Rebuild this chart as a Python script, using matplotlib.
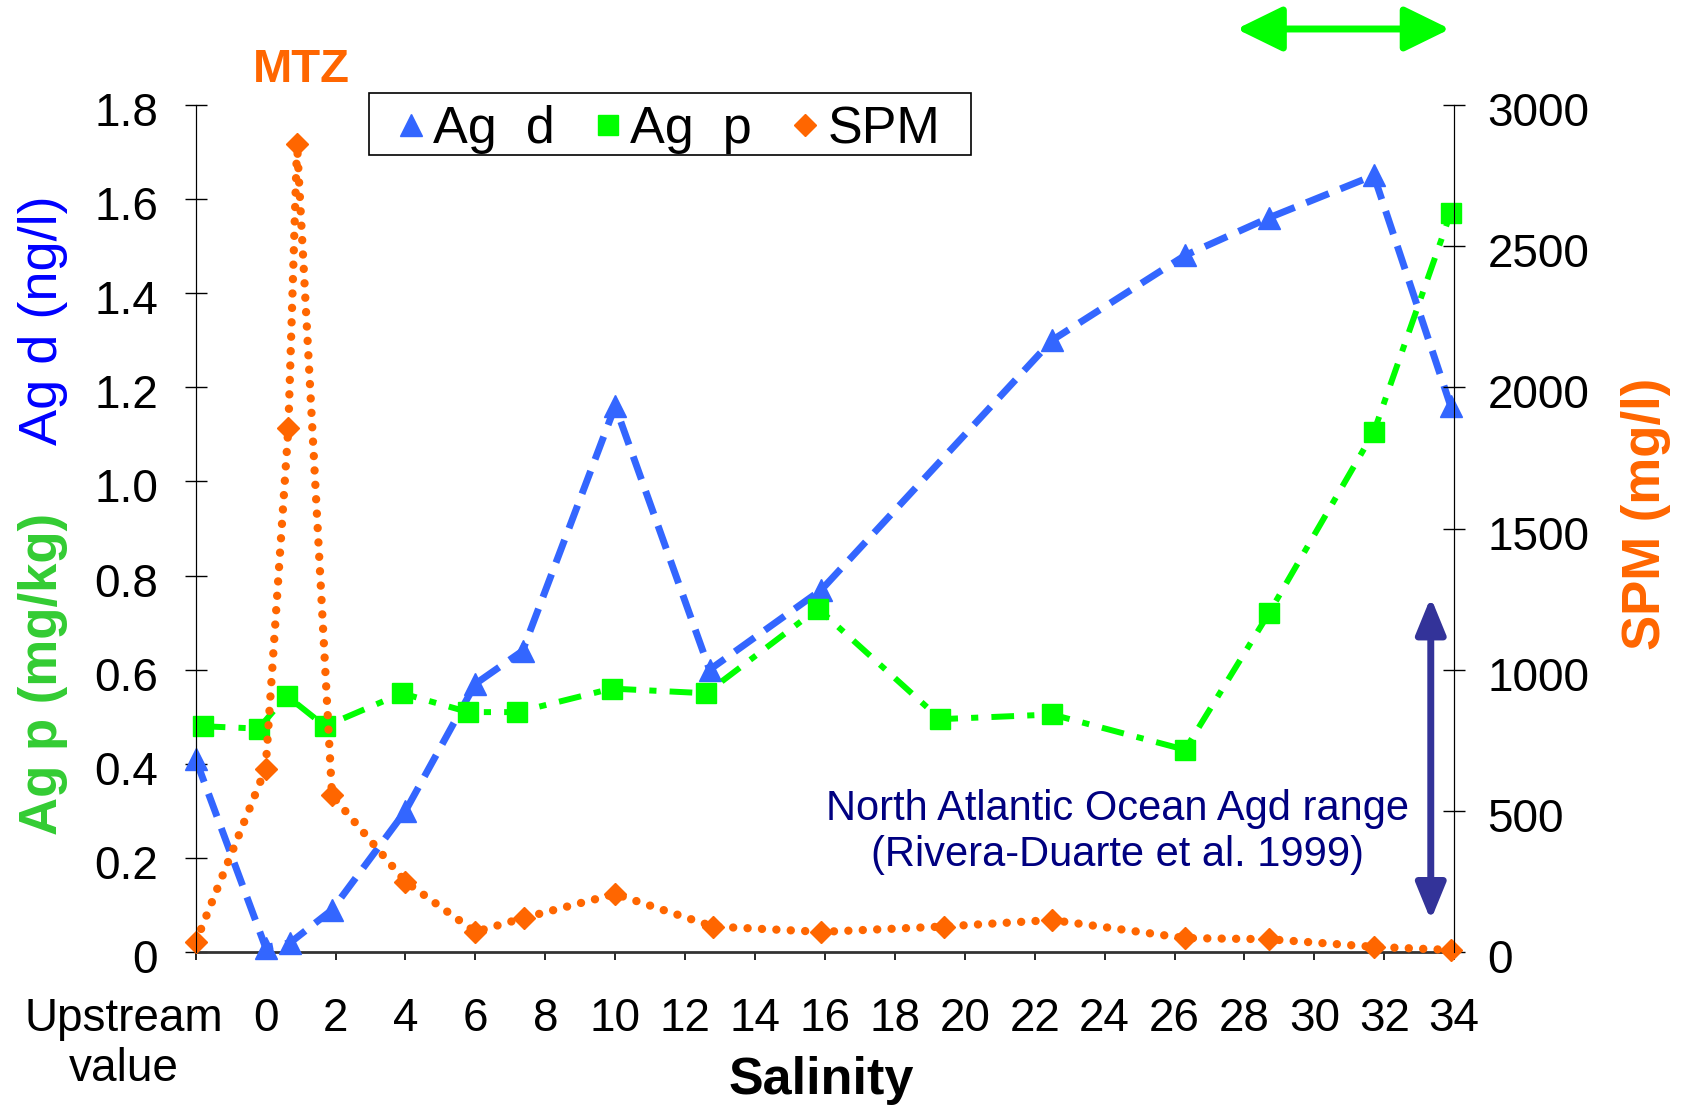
import matplotlib
matplotlib.use("Agg")
import matplotlib.pyplot as plt
from matplotlib.lines import Line2D
from matplotlib.patches import Rectangle, FancyArrowPatch
from matplotlib.transforms import ScaledTranslation

plt.rcParams['font.family'] = ['Liberation Sans', 'DejaVu Sans']

# salinity positions (-2 = upstream value)
agd_x = [-2, 0, 0.7, 1.9, 4.0, 6.0, 7.35, 10.0, 12.7, 15.9, 22.5, 26.3, 28.7, 31.7, 33.9]
agd_y = [0.41, 0.01, 0.02, 0.09, 0.30, 0.57, 0.64, 1.16, 0.60, 0.77, 1.30, 1.48, 1.56, 1.65, 1.16]

agp_x = [-1.8, -0.2, 0.6, 1.7, 3.9, 5.8, 7.2, 9.9, 12.6, 15.8, 19.3, 22.5, 26.3, 28.7, 31.7, 33.9]
agp_y = [0.48, 0.475, 0.545, 0.48, 0.55, 0.51, 0.51, 0.56, 0.55, 0.73, 0.495, 0.505, 0.43, 0.72, 1.105, 1.57]

spm_x = [-2, 0, 0.65, 0.9, 1.9, 4.0, 6.0, 7.4, 10.0, 12.8, 15.9, 19.4, 22.5, 26.3, 28.7, 31.7, 33.9]
spm_y = [35, 650, 1855, 2860, 555, 250, 72, 122, 206, 91, 72, 91, 114, 50, 46, 19, 8]

xticks = [-2] + list(range(0, 36, 2))
xlabels = ['Upstream\nvalue'] + [str(v) for v in range(0, 36, 2)]
left_ticks = [0, 0.2, 0.4, 0.6, 0.8, 1.0, 1.2, 1.4, 1.6, 1.8]
right_ticks = [0, 500, 1000, 1500, 2000, 2500, 3000]

blue = '#3366FF'
green = '#00FF00'
orange = '#FF6600'

fig = plt.figure(figsize=(16.87, 11.15), dpi=100)
ax = fig.add_axes([0.116, 0.146, 0.746, 0.760])
ax2 = ax.twinx()

ax.set_xlim(-2, 34)
ax.set_ylim(0, 1.8)
ax2.set_ylim(0, 3000)

l1, = ax.plot(agd_x, agd_y, color=blue, lw=5, marker='^', ms=16, clip_on=False, zorder=3)
l1.set_dashes([3.5, 1.8])
l2, = ax.plot(agp_x, agp_y, color=green, lw=4.3, marker='s', ms=15, clip_on=False, zorder=3)
l2.set_dashes([3.8, 2.2, 1.2, 2.2])
l3, = ax2.plot(spm_x, spm_y, color=orange, lw=6, marker='D', ms=11, clip_on=False,
               dash_capstyle='round', linestyle=(0, (0.01, 1.72)))

ax.set_xticks(xticks)
ax.set_xticklabels(xlabels)
ax.tick_params(axis='x', direction='out', length=6, width=1.2, pad=26, labelsize=33)
lab0 = ax.get_xticklabels()[0]
lab0.set_transform(lab0.get_transform() + ScaledTranslation(-0.72, 0, fig.dpi_scale_trans))

ax.set_yticks(left_ticks)
ax.set_yticklabels(['0' if v == 0 else f'{v:.1f}' for v in left_ticks])
ax.tick_params(axis='y', direction='inout', length=16, width=1, pad=19, labelsize=33)
ax2.set_yticks(right_ticks)
ax2.tick_params(axis='y', direction='inout', length=16, width=1, pad=16, labelsize=33)
# the reference sets its tick labels a few pixels below the ticks
for lab in ax.get_yticklabels() + ax2.get_yticklabels():
    lab.set_transform(lab.get_transform() + ScaledTranslation(0, -0.04, fig.dpi_scale_trans))

for a in (ax, ax2):
    a.spines['top'].set_visible(False)
ax.spines['bottom'].set_linewidth(2)
ax.spines['bottom'].set_color('#333333')
ax2.spines['bottom'].set_visible(False)

# axis titles
fig.text(0.0255, 0.713, 'Ag d (ng/l)', color='#0000FF', fontsize=39, rotation=90,
         ha='center', va='center')
fig.text(0.0255, 0.3955, 'Ag p (mg/kg)', color='#33CC33', fontsize=38, fontweight='bold',
         rotation=90, ha='center', va='center')
fig.text(0.9757, 0.539, 'SPM (mg/l)', color=orange, fontsize=38, fontweight='bold',
         rotation=90, ha='center', va='center')
fig.text(0.4866, 0.0305, 'Salinity', fontsize=37.5, fontweight='bold', ha='center', va='center')
fig.text(0.1785, 0.937, 'MTZ', color=orange, fontsize=34, fontweight='bold', ha='center', va='center')

# North Atlantic range
ax.annotate('', xy=(33.33, 0.754), xytext=(33.33, 0.068),
            arrowprops=dict(arrowstyle='<|-|>,head_length=2.2,head_width=0.9', color='#333399',
                            lw=5, shrinkA=0, shrinkB=0, mutation_scale=10))
ax.text(24.37, 0.255, 'North Atlantic Ocean Agd range\n(Rivera-Duarte et al. 1999)',
        color='#000080', fontsize=30, ha='center', va='center', linespacing=1.18)

# green arrow on top
fig.add_artist(FancyArrowPatch(
    (0.733, 0.974), (0.8595, 0.974), transform=fig.transFigure,
    arrowstyle='<|-|>,head_length=2.8,head_width=1.37', color=green, lw=5,
    mutation_scale=10, shrinkA=0, shrinkB=0))

# legend
handles = [Line2D([], [], ls='none', marker='^', ms=16, color=blue),
           Line2D([], [], ls='none', marker='s', ms=15, color=green),
           Line2D([], [], ls='none', marker='D', ms=11, color=orange)]
fig.add_artist(Rectangle((369 / 1687, 1 - 155 / 1115), (971 - 369) / 1687, 62 / 1115,
                         transform=fig.transFigure, fill=False, edgecolor='black', lw=1.2))
fig.legend(handles, ['Ag  d', 'Ag  p', 'SPM'], loc='upper left',
           bbox_to_anchor=(399 / 1687, 1 - 105 / 1115), ncol=3, frameon=False, fontsize=37.5,
           borderpad=0, borderaxespad=0, handlelength=0.45, handletextpad=0.2,
           columnspacing=0.8)

fig.savefig('out.png', dpi=100)
